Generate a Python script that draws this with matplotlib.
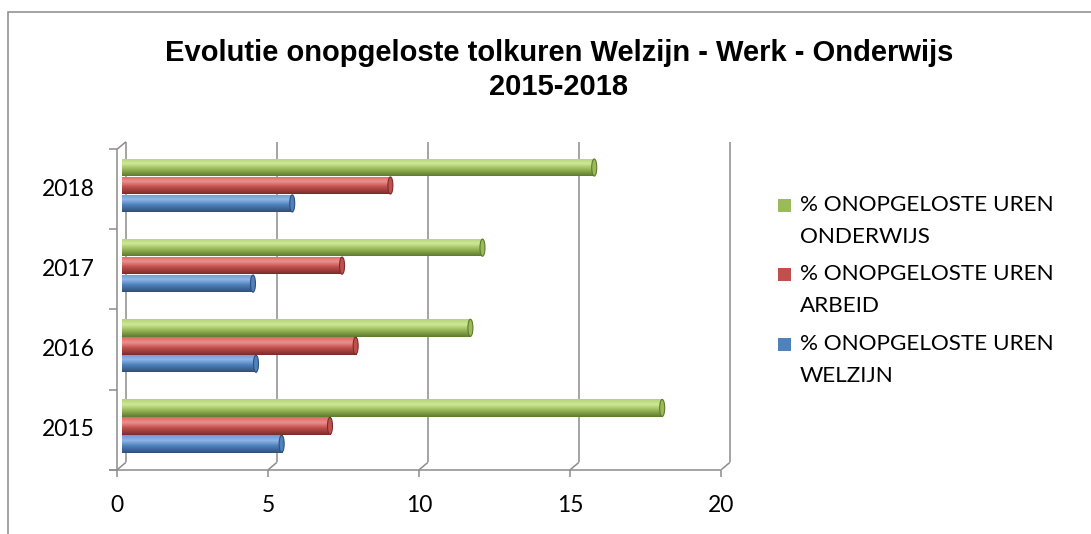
import matplotlib
matplotlib.use('Agg')
import matplotlib.pyplot as plt
import numpy as np
from matplotlib.colors import LinearSegmentedColormap
from matplotlib.patches import Rectangle, Ellipse

# ---------------- data ----------------
years = ['2015', '2016', '2017', '2018']
welzijn = [5.3, 4.45, 4.35, 5.65]
arbeid = [6.9, 7.75, 7.3, 8.9]
onderwijs = [17.9, 11.55, 11.95, 15.65]
series_names = ['% ONOPGELOSTE UREN\nWELZIJN',
                '% ONOPGELOSTE UREN\nARBEID',
                '% ONOPGELOSTE UREN\nONDERWIJS']
xticks = [0, 5, 10, 15, 20]
title_lines = ['Evolutie onopgeloste tolkuren Welzijn - Werk - Onderwijs', '2015-2018']

# ---------------- style ----------------
W, H, DPI = 1091, 534, 100
FONT = 'Lato'
GRID = '#8c8c8c'
blue = ['#8fb6e6', '#6a9ad6', '#4f81bd', '#2e5079']
red = ['#ee8f8c', '#e06663', '#c0504d', '#7a2d2b']
green = ['#cfe79a', '#b3d36f', '#9bbb59', '#5e7a2e']
flat = ['#4f81bd', '#c0504d', '#9bbb59']

fig = plt.figure(figsize=(W / DPI, H / DPI), dpi=DPI)
fig.patch.set_facecolor('white')


def fx(px):
    return px / W


def fy(py):
    return 1 - py / H


# outer chart border
fig.add_artist(Rectangle((fx(8), fy(600)), (1200) / W, (600 - 12) / H,
                         transform=fig.transFigure, fill=False,
                         edgecolor='#8a8a8a', lw=1.1))

# plot area (mid depth plane)
L, R, T, B = 121.6, 725.6, 145.4, 466.0
ax = fig.add_axes([fx(L), fy(B), (R - L) / W, (B - T) / H])
ax.set_xlim(0, 20)
ax.set_ylim(-0.5, 3.5)
ax.axis('off')
sx = 20 / (R - L)
sy = 4 / (B - T)
DX, DY = 4.35 * sx, 3.65 * sy   # offset of back plane from mid plane
y0b, y1b = -0.5, 3.5

lk = dict(color=GRID, lw=1.1, clip_on=False, zorder=1, solid_capstyle='butt')
for xv in xticks:
    # back wall gridline
    ax.plot([xv + DX, xv + DX], [y0b + DY, y1b + DY], **lk)
    # floor diagonal
    ax.plot([xv + DX, xv - DX], [y0b + DY, y0b - DY], **lk)
    # tick mark below front edge
    ax.plot([xv - DX, xv - DX], [y0b - DY, y0b - DY - 7 * sy], **lk)
    ax.text(xv - DX, y0b - DY - 36 * sy, str(xv), ha='center', va='center',
            fontsize=16.5, family=FONT, color='black')
# front floor edge
ax.plot([-DX - 8 * sx, 20 - DX], [y0b - DY, y0b - DY], **lk)
# left wall front edge and top diagonal
ax.plot([-DX, -DX], [y0b - DY, y1b - DY], **lk)
ax.plot([-DX, DX], [y1b - DY, y1b + DY], **lk)
# category ticks
for k in range(len(years) + 1):
    yy = k - 0.5 - DY
    ax.plot([-DX - 8 * sx, -DX], [yy, yy], **lk)
for i, yr in enumerate(years):
    ax.text(-DX - 22 * sx, i - DY, yr, ha='right', va='center',
            fontsize=16.5, family=FONT, color='black')

# ---------------- bars ----------------
ypos = np.arange(len(years))
bh = 0.218
off = 0.224
grad = np.linspace(0, 1, 64).reshape(-1, 1)
series = [(welzijn, -off, blue), (arbeid, 0.0, red), (onderwijs, off, green)]
for vals, o, cols in series:
    cmap = LinearSegmentedColormap.from_list(
        'c', [(0, cols[1]), (0.3, cols[0]), (0.6, cols[2]), (1.0, cols[3])])
    bars = ax.barh(ypos + o, vals, height=bh, color=cols[2], edgecolor='none', zorder=3)
    for p in bars:
        x0, yb = p.get_x(), p.get_y()
        w, h = p.get_width(), p.get_height()
        im = ax.imshow(grad, cmap=cmap, extent=(x0, x0 + w, yb, yb + h),
                       aspect='auto', origin='upper', zorder=3.1, interpolation='bilinear')
        im.set_clip_path(p)
        cap = Ellipse((x0 + w, yb + h / 2), 5 * sx, h * 0.98, facecolor=cols[2],
                      edgecolor=cols[3], lw=0.8, zorder=3.2)
        ax.add_patch(cap)
ax.set_xlim(0, 20)
ax.set_ylim(-0.5, 3.5)

# ---------------- title ----------------
fig.text(fx(559), fy(53), title_lines[0], ha='center', va='center',
         fontsize=21, fontweight='bold', family='Liberation Sans')
fig.text(fx(559), fy(87), title_lines[1], ha='center', va='center',
         fontsize=21, fontweight='bold', family='Liberation Sans')

# ---------------- legend ----------------
order = [2, 1, 0]
for j, si in enumerate(order):
    ytop = 205 + j * 69.5
    fig.add_artist(Rectangle((fx(778), fy(ytop + 6.5)), 13 / W, 13 / H,
                             transform=fig.transFigure, facecolor=flat[si],
                             edgecolor='none'))
    for li, line in enumerate(series_names[si].split('\n')):
        fig.text(fx(800), fy(ytop + li * 32), line, ha='left', va='center',
                 fontsize=16.2, family=FONT, color='black')

fig.savefig('out.png', dpi=DPI, facecolor='white')
